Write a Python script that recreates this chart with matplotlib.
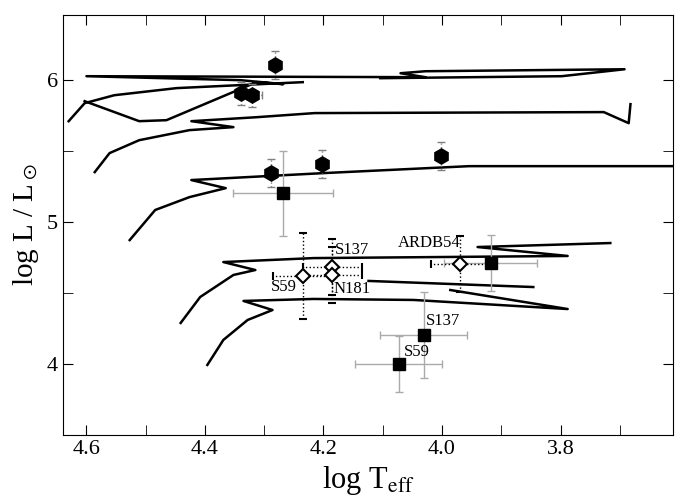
import numpy as np
import matplotlib.pyplot as plt
from matplotlib.ticker import MultipleLocator

plt.rcParams['font.family'] = ['Liberation Serif', 'DejaVu Serif']
plt.rcParams['mathtext.fontset'] = 'stix'

# evolutionary tracks (log Teff, log L)
trackA_T = [4.603, 4.511, 4.465, 4.313, 4.268, 4.340, 4.600, 4.028, 4.070, 4.028, 3.692, 3.798, 4.104]
trackA_L = [5.852, 5.711, 5.718, 5.986, 5.972, 6.0, 6.028, 6.021, 6.049, 6.063, 6.077, 6.028, 6.014]
trackB_T = [4.630, 4.603, 4.553, 4.448, 4.271, 4.235]
trackB_L = [5.711, 5.838, 5.894, 5.944, 5.979, 5.986]
trackC_T = [4.586, 4.561, 4.511, 4.426, 4.352, 4.423, 4.313, 4.215, 3.727, 3.685, 3.682]
trackC_L = [5.352, 5.486, 5.577, 5.648, 5.669, 5.711, 5.739, 5.768, 5.775, 5.697, 5.831]
trackD_T = [4.527, 4.484, 4.426, 4.365, 4.423, 4.200, 3.954, 3.60]
trackD_L = [4.873, 5.085, 5.176, 5.239, 5.296, 5.345, 5.394, 5.394]
trackE_T = [4.441, 4.408, 4.352, 4.315, 4.369, 4.217, 3.788, 3.940, 3.716]
trackE_L = [4.289, 4.472, 4.627, 4.662, 4.718, 4.746, 4.761, 4.824, 4.852]
trackF_T = [4.396, 4.369, 4.328, 4.286, 4.335, 4.217, 4.048, 3.788, 3.986]
trackF_L = [3.993, 4.169, 4.310, 4.380, 4.444, 4.458, 4.451, 4.387, 4.521]
trackG_T = [4.124, 3.846]
trackG_L = [4.585, 4.542]

# filled circles
circ_T = [4.281, 4.340, 4.320, 4.289, 4.202, 4.001]
circ_L = [6.106, 5.908, 5.894, 5.345, 5.408, 5.465]
circ_Terr = [0.0, 0.0, 0.017, 0.0, 0.0, 0.0]
circ_Lerr = [0.1, 0.08, 0.08, 0.1, 0.1, 0.1]

# filled squares
sq_T = [4.268, 3.918, 4.031, 4.073]
sq_L = [5.204, 4.711, 4.204, 4.000]
sq_Terr = [0.084, 0.078, 0.073, 0.073]
sq_Lerr = [0.3, 0.2, 0.3, 0.2]

# open diamonds
dm_T = [4.235, 4.185, 4.185, 3.969]
dm_L = [4.620, 4.683, 4.627, 4.704]
dm_Terr = [0.05, 0.05, 0.05, 0.05]
dm_Lerr = [0.3, 0.2, 0.2, 0.2]

labels = ['S137', 'S59', 'N181', 'ARDB54', 'S137', 'S59']
lab_T = [4.180, 4.289, 4.183, 4.075, 4.028, 4.065]
lab_L = [4.80, 4.54, 4.53, 4.85, 4.30, 4.085]

fig = plt.figure(figsize=(6.82, 4.97), dpi=100)
ax = fig.add_axes([0.092, 0.125, 0.895, 0.845])

for T, L in [(trackA_T, trackA_L), (trackB_T, trackB_L), (trackC_T, trackC_L),
             (trackD_T, trackD_L), (trackE_T, trackE_L), (trackF_T, trackF_L),
             (trackG_T, trackG_L)]:
    ax.plot(T, L, color='black', lw=1.8)

eb = ax.errorbar(circ_T, circ_L, xerr=circ_Terr, yerr=circ_Lerr, fmt='h', ms=11,
                 color='black', ecolor='gray', elinewidth=1, capsize=3, capthick=1)
eb[2][0].set_linestyle(':'); eb[2][1].set_linestyle(':')
ax.errorbar(sq_T, sq_L, xerr=sq_Terr, yerr=sq_Lerr, fmt='s', ms=8, color='black',
            ecolor='#aaaaaa', elinewidth=1, capsize=3, capthick=1)
eb = ax.errorbar(dm_T, dm_L, xerr=dm_Terr, yerr=dm_Lerr, fmt='D', ms=7, mfc='white',
                 mec='black', mew=1.5, ecolor='black', elinewidth=1, capsize=3, capthick=1)
eb[2][0].set_linestyle(':'); eb[2][1].set_linestyle(':')

for s, t, l in zip(labels, lab_T, lab_L):
    ax.text(t, l, s, fontsize=12, ha='left', va='center')

ax.set_xlim(4.64, 3.61)
ax.set_ylim(3.5, 6.46)
ax.xaxis.set_major_locator(MultipleLocator(0.2))
ax.xaxis.set_minor_locator(MultipleLocator(0.1))
ax.yaxis.set_major_locator(MultipleLocator(1))
ax.yaxis.set_minor_locator(MultipleLocator(0.5))
ax.tick_params(which='both', direction='in', top=True, right=True, labelsize=16)
ax.tick_params(which='major', length=7)
ax.tick_params(which='minor', length=7)
ax.set_xlabel(r'log T$_{\rm eff}$', fontsize=22)
ax.set_ylabel(r'log L / L$_\odot$', fontsize=21)

fig.savefig('out.png', dpi=100)
